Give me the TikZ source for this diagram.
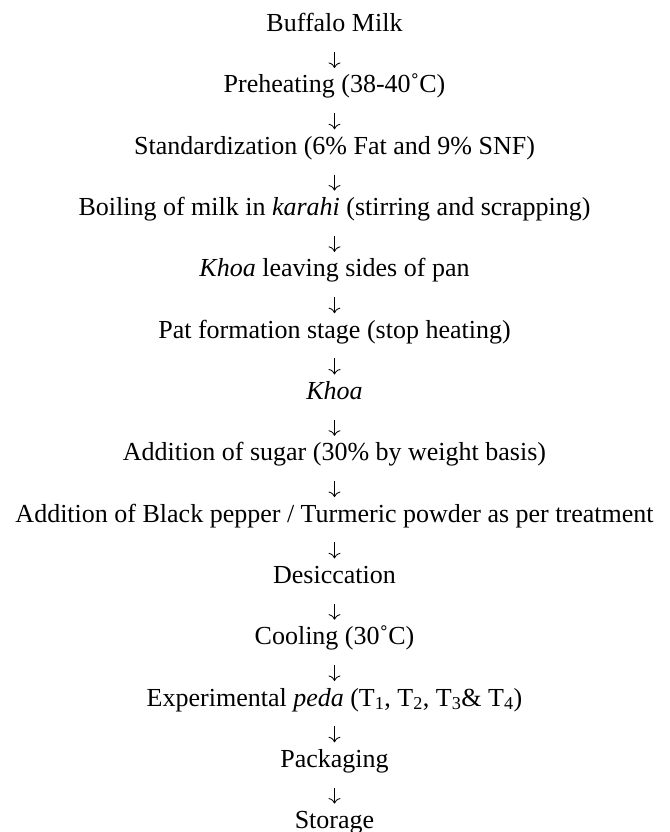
\documentclass[tikz,border=0pt]{standalone}
\usepackage{fontspec}
\setmainfont{Liberation Serif}
\usetikzlibrary{arrows.meta}

\tikzset{
  stage/.style={inner sep=0pt, text height=18.2pt, text depth=5.7pt,
                font=\fontsize{26}{31}\selectfont},
  flow/.style={-{To[length=5.5pt,width=12pt]}, line width=0.85pt,
               shorten <=14.3pt, shorten >=6.6pt}
}

\begin{document}
\begin{tikzpicture}[node distance=61.3pt, auto]
  \useasboundingbox (0pt,0pt) rectangle (669pt,-832pt);

  \node[stage] (milk) at (334.5pt,-25.45pt) {Buffalo Milk};
  \node[stage, below of=milk] (preheat) {Preheating (38-40˚C)};
  \node[stage, below of=preheat] (standard) {Standardization (6\% Fat and 9\% SNF)};
  \node[stage, below of=standard] (boil) {Boiling of milk in \textit{karahi} (stirring and scrapping)};
  \node[stage, below of=boil] (leave) {\textit{Khoa} leaving sides of pan};
  \node[stage, below of=leave] (pat) {Pat formation stage (stop heating)};
  \node[stage, below of=pat] (khoa) {\textit{Khoa}};
  \node[stage, below of=khoa] (sugar) {Addition of sugar (30\% by weight basis)};
  \node[stage, below of=sugar] (spice) {Addition of Black pepper / Turmeric powder as per treatment};
  \node[stage, below of=spice] (desicc) {Desiccation};
  \node[stage, below of=desicc] (cool) {Cooling (30˚C)};
  \node[stage, below of=cool] (peda) {Experimental \textit{peda} (T\textsubscript{1}, T\textsubscript{2}, T\textsubscript{3}\& T\textsubscript{4})};
  \node[stage, below of=peda] (pack) {Packaging};
  \node[stage, below of=pack] (store) {Storage};

  \draw[flow] (milk) -- (preheat);
  \draw[flow] (preheat) -- (standard);
  \draw[flow] (standard) -- (boil);
  \draw[flow] (boil) -- (leave);
  \draw[flow] (leave) -- (pat);
  \draw[flow] (pat) -- (khoa);
  \draw[flow] (khoa) -- (sugar);
  \draw[flow] (sugar) -- (spice);
  \draw[flow] (spice) -- (desicc);
  \draw[flow] (desicc) -- (cool);
  \draw[flow] (cool) -- (peda);
  \draw[flow] (peda) -- (pack);
  \draw[flow] (pack) -- (store);

\end{tikzpicture}
\end{document}
